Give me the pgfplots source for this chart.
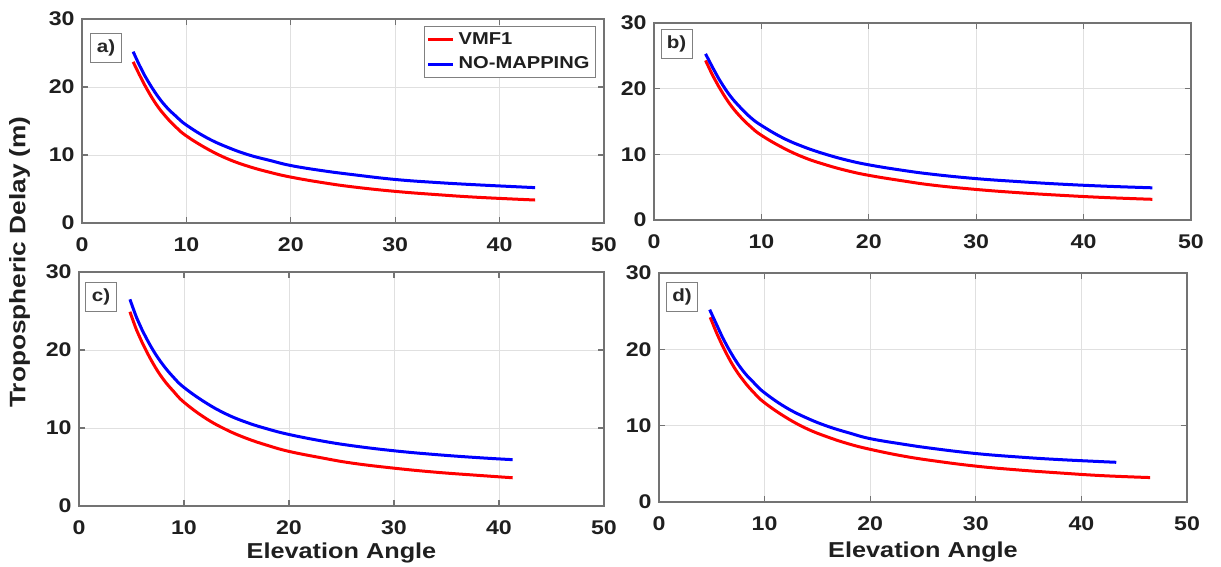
\documentclass[border=0pt]{standalone}
\usepackage{pgfplots}
\pgfplotsset{compat=1.18}
\usepackage{fontspec}
\setmainfont{Liberation Sans}[FakeStretch=1.17]

\tikzset{
  plab/.style={draw=black!50, fill=white, line width=0.5pt, font=\bfseries\fontsize{8.8}{9}\selectfont, text=black!85, minimum width=15.5pt, minimum height=14.5pt, inner sep=0pt},
}
\pgfplotsset{
  panel/.style={
    scale only axis, anchor=south west,
    xmin=0, xmax=50, ymin=0, ymax=30,
    xtick={0,10,20,30,40,50}, ytick={0,10,20,30},
    grid=major, major grid style={black!12, line width=0.4pt},
    axis line style={black!55, line width=0.6pt},
    tick style={black!55, line width=0.6pt},
    tick align=inside, major tick length=3pt,
    /pgf/number format/assume math mode=true,
    tick label style={font=\bfseries\fontsize{9.9}{11}\selectfont, text=black!88},
    xticklabel style={anchor=center, inner sep=0pt, yshift=-11pt},
    yticklabel style={anchor=east, inner sep=0pt, xshift=-3.5pt},
    label style={font=\bfseries\fontsize{10.8}{12}\selectfont, text=black!88},
    clip=false,
  },
  vmf/.style={red, line width=1.5pt, smooth, tension=0.7},
  nomap/.style={blue, line width=1.5pt, smooth, tension=0.7},
}

\pgfplotstableread{
x y
4.9 23.7
5.5 21.8
6 20.3
7 17.7
8 15.7
9 14.1
10 12.8
12 10.9
14 9.4
16 8.3
18 7.45
20 6.75
23 5.95
26 5.3
30 4.65
34 4.17
38 3.77
43.4 3.38
}\redA
\pgfplotstableread{
x y
4.9 25.2
5.5 23.2
6 21.7
7 19.2
8 17.2
9 15.7
10 14.4
12 12.5
14 11.1
16 10.0
18 9.2
20 8.45
23 7.7
26 7.1
30 6.4
34 5.95
38 5.6
43.4 5.2
}\blueA
\pgfplotstableread{
x y
4.8 24.3
5.5 21.9
6 20.4
7 17.8
8 15.8
9 14.2
10 12.9
12 11.0
14 9.5
16 8.4
18 7.5
20 6.8
23 6.0
26 5.3
30 4.65
34 4.15
38 3.75
42 3.42
46.4 3.15
}\redB
\pgfplotstableread{
x y
4.8 25.3
5.5 23.1
6 21.6
7 19.1
8 17.2
9 15.6
10 14.4
12 12.5
14 11.1
16 10.0
18 9.1
20 8.4
23 7.6
26 6.95
30 6.3
34 5.84
38 5.45
42 5.15
46.4 4.9
}\blueB
\pgfplotstableread{
x y
4.85 24.9
5.5 22.5
6 21.0
7 18.4
8 16.3
9 14.7
10 13.3
12 11.3
14 9.8
16 8.65
18 7.75
20 7.0
23 6.2
26 5.5
30 4.85
34 4.33
38 3.93
41.3 3.62
}\redC
\pgfplotstableread{
x y
4.85 26.5
5.5 24.1
6 22.6
7 20.1
8 18.1
9 16.5
10 15.2
12 13.3
14 11.8
16 10.7
18 9.86
20 9.17
23 8.37
26 7.73
30 7.08
34 6.59
38 6.2
41.3 5.94
}\blueC
\pgfplotstableread{
x y
4.85 24.2
5.5 22.0
6 20.5
7 17.9
8 15.9
9 14.3
10 13.0
12 11.1
14 9.6
16 8.5
18 7.6
20 6.9
23 6.05
26 5.4
30 4.7
34 4.2
38 3.8
42 3.45
46.5 3.2
}\redD
\pgfplotstableread{
x y
4.8 25.2
5.5 23.1
6 21.6
7 19.1
8 17.1
9 15.6
10 14.3
12 12.4
14 11.0
16 9.9
18 9.05
20 8.3
23 7.6
26 7.0
30 6.35
34 5.9
38 5.55
43.3 5.2
}\blueD

\begin{document}
\begin{tikzpicture}
\useasboundingbox (0,0) rectangle (610.5pt,283.5pt);

% a)
\begin{axis}[panel, at={(41pt,172pt)}, width=261pt, height=102pt,
  legend style={at={(1,1)}, anchor=north east, xshift=-4pt, yshift=-3.5pt,
    draw=black!50, line width=0.5pt, fill=white,
    font=\bfseries\fontsize{8.6}{9}\selectfont, text=black!88,
    inner xsep=1pt, inner ysep=1pt, row sep=0.8pt, cells={anchor=west}},
  legend image code/.code={\draw[#1] (0pt,0pt) -- (12.5pt,0pt);},
  legend cell align=left]
\addplot[vmf] table {\redA};
\addlegendentry{VMF1}
\addplot[nomap] table {\blueA};
\addlegendentry{NO-MAPPING}
\node[plab] at (axis cs:2.3,25.7) {a)};
\end{axis}

% b)
\begin{axis}[panel, at={(327pt,173.5pt)}, width=268.5pt, height=98.5pt]
\addplot[vmf] table {\redB};
\addplot[nomap] table {\blueB};
\node[plab] at (axis cs:2.1,26.8) {b)};
\end{axis}

% c)
\begin{axis}[panel, at={(39.5pt,30.5pt)}, width=262.5pt, height=117pt,
  xlabel={Elevation Angle},
  xlabel style={at={(axis description cs:0.5,0)}, anchor=center, yshift=-23.5pt}]
\addplot[vmf] table {\redC};
\addplot[nomap] table {\blueC};
\node[plab] at (axis cs:2.1,26.8) {c)};
\end{axis}

% d)
\begin{axis}[panel, at={(329.5pt,32.5pt)}, width=264pt, height=114.5pt,
  xlabel={Elevation Angle},
  xlabel style={at={(axis description cs:0.5,0)}, anchor=center, yshift=-25pt}]
\addplot[vmf] table {\redD};
\addplot[nomap] table {\blueD};
\node[plab] at (axis cs:2.18,26.9) {d)};
\end{axis}

\node[rotate=90, font=\bfseries\fontsize{11.2}{12}\selectfont, text=black!88] at (9.75pt,152.5pt) {Tropospheric Delay (m)};
\end{tikzpicture}
\end{document}
